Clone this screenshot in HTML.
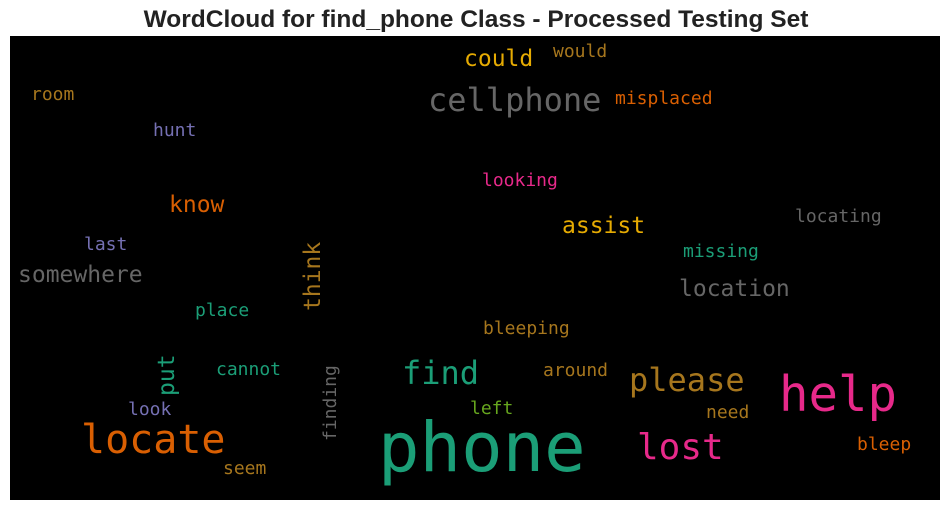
<!DOCTYPE html>
<html><head><meta charset="utf-8"><style>
html,body{margin:0;padding:0;background:#fff;width:950px;height:511px;overflow:hidden}
svg text{font-family:"DejaVu Sans Mono","Liberation Mono",monospace}
</style></head><body>
<svg width="950" height="511">
<text x="476" y="27" text-anchor="middle" style="font-family:'Liberation Sans',sans-serif;font-weight:bold;font-size:24.5px" fill="#222">WordCloud for find_phone Class - Processed Testing Set</text>
<rect x="10" y="36" width="930" height="464" fill="#000"/>
<g id="words" transform="translate(2,1)"></g>
</svg>
<script>
const words=["phone","cellphone","help","locate","lost","find","please","could","misplaced","would","room","hunt","looking","know","assist","locating","last","missing","somewhere","think","location","place","bleeping","put","cannot","finding","around","look","left","need","bleep","seem"];
const sizes=[69,32,49,40,36,32,32,23,18,18,18,18,18,23,23,18,18,18,23,23,23,18,18,23,18,18,18,18,18,18,18,18];
const colors=["#1b9e77","#666666","#e7298a","#d95f02","#e7298a","#1b9e77","#a6761d","#e6ab02","#d95f02","#a6761d","#a6761d","#7570b3","#e7298a","#d95f02","#e6ab02","#666666","#7570b3","#1b9e77","#666666","#a6761d","#666666","#1b9e77","#a6761d","#1b9e77","#1b9e77","#666666","#a6761d","#7570b3","#66a61e","#a6761d","#d95f02","#a6761d"];
const wx=[376,426,777,79,635,400,627,462,613,551,29,151,480,167,560,793,82,681,16,318,677,193,481,172,214,334,541,126,468,704,855,221];
const wy=[470,110,410,452,458,383,390,65,103,56,99,135,185,211,232,221,249,256,281,310,295,315,333,395,374,440,375,414,413,417,449,473];
const vertical=[0,0,0,0,0,0,0,0,0,0,0,0,0,0,0,0,0,0,0,1,0,0,0,1,0,1,0,0,0,0,0,0];
const g=document.getElementById('words');
words.forEach((w,i)=>{
  const t=document.createElementNS('http://www.w3.org/2000/svg','text');
  t.textContent=w;
  t.setAttribute('font-size',sizes[i]);
  t.setAttribute('fill',colors[i]);
  if(vertical[i]){t.setAttribute('transform','translate('+wx[i]+','+wy[i]+') rotate(-90)');}
  else{t.setAttribute('x',wx[i]);t.setAttribute('y',wy[i]);}
  
  
  g.appendChild(t);
});
</script>
</body></html>
